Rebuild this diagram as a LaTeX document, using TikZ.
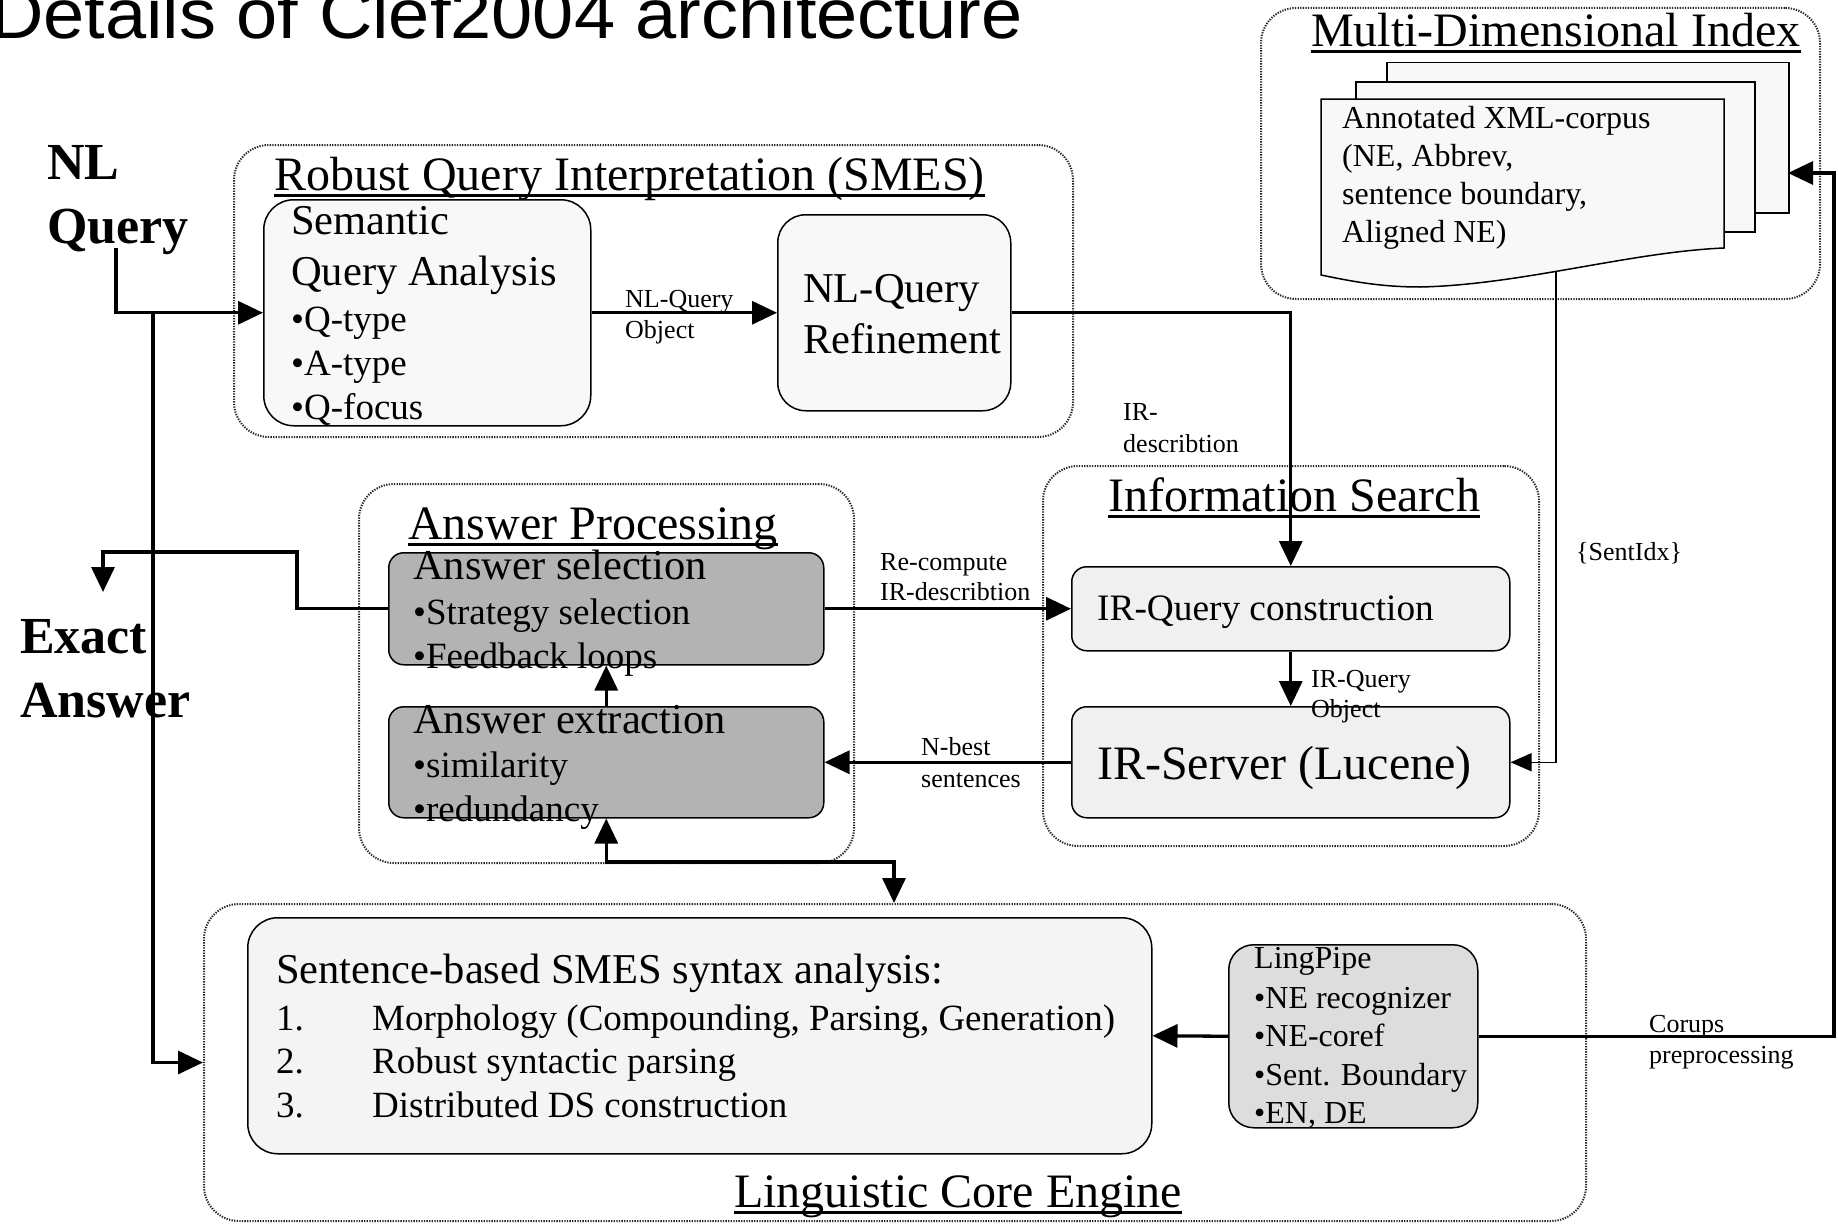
\documentclass[tikz,border=0pt]{standalone}
\usepackage{fontspec}
\setmainfont{Liberation Serif}
\newfontfamily\titlefont{Liberation Sans}
\usetikzlibrary{arrows.meta}
\newcommand\fsz[1]{\fontsize{#1pt}{#1pt}\selectfont}
\definecolor{boxlight}{HTML}{F8F8F8}
\definecolor{boxir}{HTML}{F0F0F0}
\definecolor{boxdark}{HTML}{B3B3B3}
\definecolor{boxsent}{HTML}{F4F4F4}
\definecolor{boxlp}{HTML}{DDDDDD}
\begin{document}
\begin{tikzpicture}[x=1pt,y=-1pt,
  outer/.style={draw=black!85, line width=2pt, dash pattern=on 1.3pt off 1.3pt, rounded corners=35pt, fill=white, inner sep=0, anchor=north west},
  ibox/.style={draw=black, line width=1.5pt, inner sep=0, anchor=north west},
  page/.style={draw=black, line width=1.5pt, fill=boxlight, inner sep=0, anchor=north west},
  arr/.style={line width=3.3pt, -{Triangle[length=25pt,width=23pt]}},
  darr/.style={line width=3.3pt, {Triangle[length=25pt,width=23pt]}-{Triangle[length=25pt,width=23pt]}},
  thinarr/.style={line width=1.5pt, -{Triangle[length=21pt,width=18pt]}},
  txt/.style={anchor=base west, inner sep=0, font=\fsz{#1}},
  sect/.style={anchor=base west, inner sep=0, font=\fsz{48}},
  lab/.style={anchor=base west, inner sep=0, font=\fsz{26}},
  big/.style={anchor=base west, inner sep=0, font=\bfseries\fsz{52}},
  uline/.style={line width=3pt}
]
\useasboundingbox (0,0) rectangle (1838,1223);
\fill[white] (0,0) rectangle (1838,1223);

% title
\node[anchor=base west, inner sep=0, font=\titlefont\fsz{74}] (title) at (-10,38) {\scalebox{1}[0.95]{Details of Clef2004 architecture}};

% outer groups
\node[outer, minimum width=839, minimum height=292] (rqi) at (233,144) {};
\node[outer, minimum width=559, minimum height=291] (mdi) at (1260,7) {};
\node[outer, minimum width=496, minimum height=380] (info) at (1042,465) {};
\node[outer, minimum width=495, minimum height=379] (ap) at (358,483) {};
\node[outer, minimum width=1382, minimum height=317] (lce) at (203,903) {};

% section titles
\node[sect] (trqi) at (274,190) {Robust Query Interpretation (SMES)};
\node[sect] (tmdi) at (1311,47) {Multi-Dimensional Index};
\node[sect] (tinfo) at (1108,511) {Information Search};
\node[sect] (tap) at (408,539) {Answer Processing};
\node[sect] (tlce) at (734,1207) {Linguistic Core Engine};
\foreach \n in {trqi,tmdi,tinfo,tap,tlce}
  \draw[uline] ([yshift=-5pt]\n.base west) -- ([yshift=-5pt]\n.base east);

% inner boxes
\node[ibox, fill=boxlight, rounded corners=30pt, minimum width=327, minimum height=226] (sem) at (263,199) {};
\node[ibox, fill=boxlight, rounded corners=28pt, minimum width=233, minimum height=196] (ref) at (777,214) {};
\node[ibox, fill=boxir, rounded corners=15pt, minimum width=438, minimum height=84] (irq) at (1071,566) {};
\node[ibox, fill=boxir, rounded corners=15pt, minimum width=438, minimum height=111] (irs) at (1071,706) {};
\node[ibox, fill=boxdark, rounded corners=15pt, minimum width=435, minimum height=112] (sel) at (388,552) {};
\node[ibox, fill=boxdark, rounded corners=15pt, minimum width=435, minimum height=111] (ext) at (388,706) {};
\node[ibox, fill=boxsent, rounded corners=30pt, minimum width=904, minimum height=236] (sbox) at (247,917) {};
\node[ibox, fill=boxlp, rounded corners=25pt, minimum width=249, minimum height=183] (lp) at (1228,944) {};

% document stack
\node[page, minimum width=402, minimum height=150] (pg3) at (1386,62) {};
\node[page, minimum width=399, minimum height=150] (pg2) at (1355,81) {};
\draw[line width=1.5pt, fill=boxlight] (1321,99) -- (1724,99) -- (1724,248)
  .. controls (1630,252) and (1520,285) .. (1420,287)
  .. controls (1380,287) and (1350,281) .. (1321,275) -- cycle;

% box texts
\node[txt=42.5] (s1) at (291,234) {Semantic};
\node[txt=42.5] (s2) at (291,285) {Query Analysis};
\node[txt=37] (s3) at (291,331) {•Q-type};
\node[txt=37] (s4) at (291,375) {•A-type};
\node[txt=37] (s5) at (291,419) {•Q-focus};
\node[txt=42.5] (r1) at (803,302) {NL-Query};
\node[txt=42.5] (r2) at (803,353) {Refinement};
\node[txt=37.3] (q1) at (1097,620) {IR-Query construction};
\node[txt=48] (v1) at (1097,779) {IR-Server (Lucene)};
\node[txt=42.5] (a1) at (413,579) {Answer selection};
\node[txt=37] (a2) at (413,624) {•Strategy selection};
\node[txt=37] (a3) at (413,668) {•Feedback loops};
\node[txt=42.5] (e1) at (413,733) {Answer extraction};
\node[txt=37] (e2) at (413,777) {•similarity};
\node[txt=37] (e3) at (413,821) {•redundancy};
\node[txt=42.5] (m0) at (276,983) {Sentence-based SMES syntax analysis:};
\node[txt=37] (m1n) at (276,1030) {1.};
\node[txt=37] (m1) at (372,1030) {Morphology (Compounding, Parsing, Generation)};
\node[txt=37] (m2n) at (276,1073) {2.};
\node[txt=37] (m2) at (372,1073) {Robust syntactic parsing};
\node[txt=37] (m3n) at (276,1117) {3.};
\node[txt=37] (m3) at (372,1117) {Distributed DS construction};
\node[txt=32] (l1) at (1254,968) {LingPipe};
\node[txt=32] (l2) at (1254,1008) {•NE recognizer};
\node[txt=32] (l3) at (1254,1046) {•NE-coref};
\node[txt=32] (l4) at (1254,1085) {•Sent. Boundary};
\node[txt=32] (l5) at (1254,1123) {•EN, DE};
\node[txt=32] (d1) at (1342,128) {Annotated XML-corpus};
\node[txt=32] (d2) at (1342,166) {(NE, Abbrev,};
\node[txt=32] (d3) at (1342,204) {sentence boundary,};
\node[txt=32] (d4) at (1342,242) {Aligned NE)};

% big side labels
\node[big] (nl1) at (47,179) {NL};
\node[big] (nl2) at (47,243) {Query};
\node[big] (ex1) at (20,653) {Exact};
\node[big] (ex2) at (20,717) {Answer};

% connector labels
\node[lab] (lb1) at (625,307) {NL-Query};
\node[lab] (lb2) at (625,338) {Object};
\node[lab] (lb3) at (1123,420) {IR-};
\node[lab] (lb4) at (1123,452) {describtion};
\node[lab] (lb5) at (880,570) {Re-compute};
\node[lab] (lb6) at (880,600) {IR-describtion};
\node[lab] (lb7) at (921,755) {N-best};
\node[lab] (lb8) at (921,787) {sentences};
\node[lab] (lb9) at (1311,687) {IR-Query};
\node[lab] (lb10) at (1311,717) {Object};
\node[lab] (lb11) at (1576,560) {\{SentIdx\}};
\node[lab] (lb12) at (1649,1032) {Corups};
\node[lab] (lb13) at (1649,1063) {preprocessing};

% coordinates
\coordinate (nlq) at (116,248);
\coordinate (br) at (153,312);
\coordinate (eaBend) at (297,552);
\coordinate (exTip) at (103,592);
\coordinate (bend) at (894,862);
\coordinate (lceTop) at (894,903);
\coordinate (rcorner) at (1834,173);
\coordinate (idxIn) at (1788,173);
\coordinate (wave) at (1556,272);

% connectors
\draw[arr] (nlq) |- (sem.west);
\draw[arr] (br) |- (lce.west);
\draw[arr] (sem.east) -- (ref.west);
\draw[arr] (ref.east) -| (irq.north);
\draw[arr] (irq.south) -- (irs.north);
\draw[arr] (sel.east) -- (irq.west);
\draw[arr] (irs.west) -- (ext.east);
\draw[arr] (ext.north) -- (sel.south);
\draw[darr] (ext.south) |- (bend) -- (lceTop);
\draw[arr] (sel.west) -| (eaBend) -| (exTip);
\draw[arr] (lp.west) -- (sbox.east);
\draw[arr] (lp.east) -| (rcorner) -- (idxIn);
\draw[thinarr] (wave) |- (irs.east);
\end{tikzpicture}
\end{document}
